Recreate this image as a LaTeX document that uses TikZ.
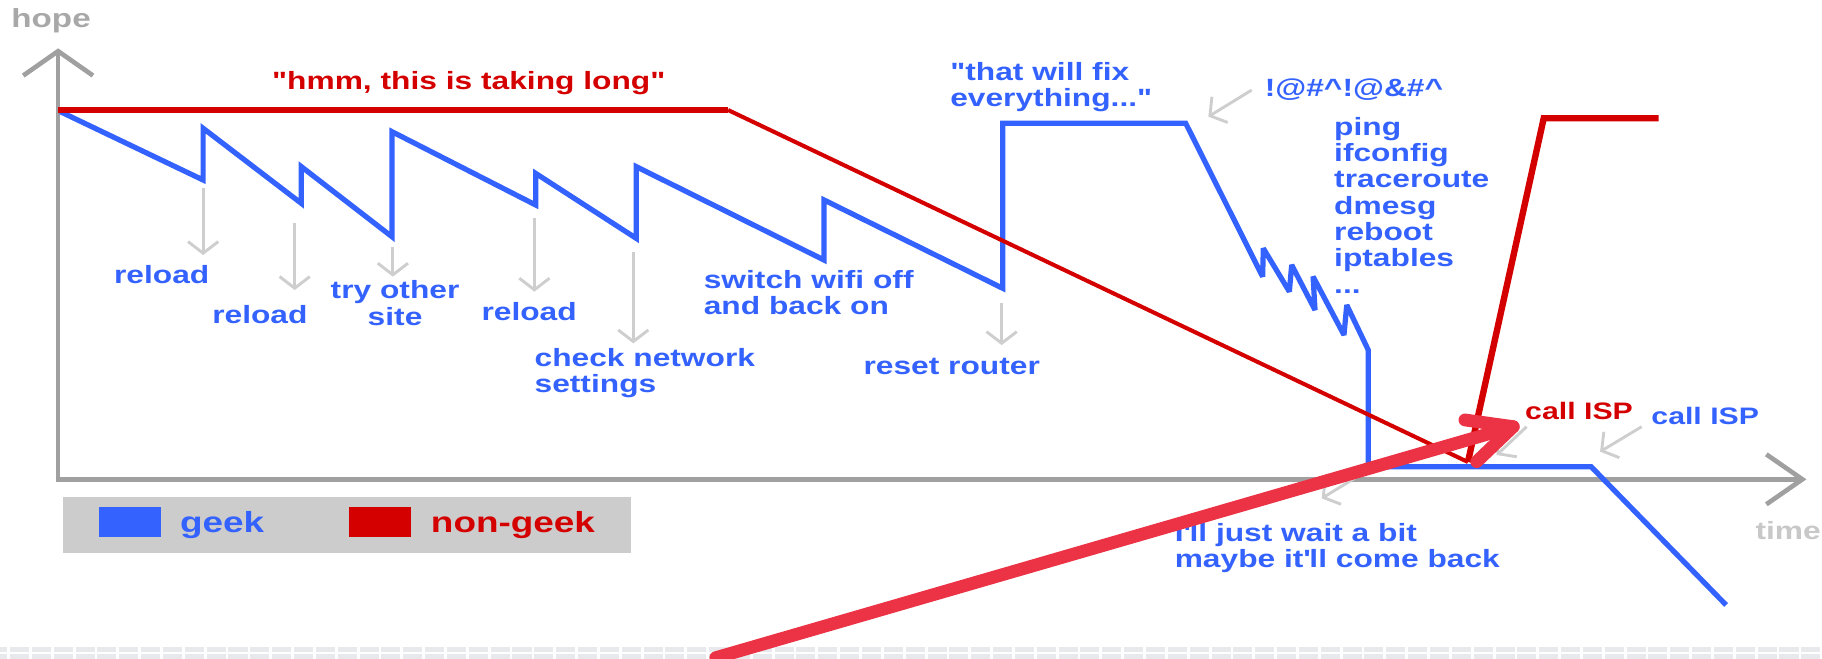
\documentclass[tikz,border=0pt]{standalone}
\usepackage{fontspec}
\usetikzlibrary{arrows.meta}
\newfontfamily\chartfont[FakeStretch=1.27]{Liberation Sans}
\definecolor{geekblue}{RGB}{52,98,255}
\definecolor{nongeekred}{RGB}{212,0,0}
\definecolor{axisgray}{RGB}{160,160,160}
\definecolor{hopegray}{RGB}{168,168,168}
\definecolor{timegray}{RGB}{200,200,200}
\definecolor{pointgray}{RGB}{206,206,206}
\definecolor{legendgray}{RGB}{204,204,204}
\definecolor{notered}{RGB}{236,51,70}
\definecolor{stripgray}{RGB}{232,233,237}

\begin{document}
\begin{tikzpicture}[x=1pt,y=-1pt,
  lbl/.style={font={\chartfont\bfseries\fontsize{21.5}{22.7}\selectfont}, inner sep=0pt, anchor=base west, align=left},
  geeklbl/.style={lbl, text=geekblue},
  redlbl/.style={lbl, text=nongeekred},
  pointer/.style={draw=pointgray, line width=2.5pt, -{Straight Barb[length=10pt,width=26pt]}},
  axis/.style={draw=axisgray, line width=4pt},
  geekline/.style={draw=geekblue, line width=4.5pt, line join=miter, miter limit=3},
  nongeekline/.style={draw=nongeekred, line join=miter, miter limit=3},
  bignote/.style={draw=notered, line width=11pt, line cap=round, line join=round}]
\useasboundingbox (0,0) rectangle (1568,567);

% strip at the bottom
\foreach \k in {0,...,84} {
  \fill[stripgray] (-10.2+18.8*\k,556.8) rectangle ++(16.4,4.3);
  \fill[stripgray] (-10.2+18.8*\k,562.8) rectangle ++(16.4,4.5);
}

% axes
\draw[axis, {Straight Barb[length=21pt,width=60pt]}-{Straight Barb[length=31pt,width=43pt]}] (50,41.6) -- (50,412.5) -- (1554.6,412.5);
\node[lbl, text=hopegray, font={\chartfont\bfseries\fontsize{22.5}{24}\selectfont}] (hope) at (9.6,23.5) {hope};
\node[lbl, text=timegray] (time) at (1510.6,464.7) {time};

% pointers
\foreach \n/\xa/\ya/\xb/\yb in {1/174.8/162/174.8/219.5, 2/253.6/192.2/253.6/249.6, 3/338.1/212.3/338.1/238.1,
    4/459.9/187.9/459.9/251, 5/545/217/545/295.5, 6/862/261/862/297,
    7/1077.2/77.5/1039.9/100.4, 8/1412.8/367.2/1377/388.7, 9/1313.8/367.2/1288/391.6, 10/1173.4/406.9/1137.4/428.9} {
  \coordinate (ptr\n-from) at (\xa,\ya);
  \coordinate (ptr\n-to) at (\xb,\yb);
  \draw[pointer] (ptr\n-from) -- (ptr\n-to);
}

% geek
\draw[geekline] (51.9,96.1) -- (174.8,154.9) -- (174.8,110.4) -- (259.3,175) -- (259.3,143.4)
  -- (337.3,203.7) -- (337.3,113.3) -- (461,176.4) -- (461,149.2) -- (547.5,205.1) -- (547.5,143.4)
  -- (709.2,223.8) -- (709.2,172.1) -- (862.9,248.1) -- (862.9,106.1) -- (1020.4,106.1)
  -- (1086.6,238.1) -- (1087.2,213.7) -- (1109.6,251) -- (1111.6,228) -- (1131.7,266.8) -- (1130,238)
  -- (1156.6,288.3) -- (1159,262.5) -- (1177.5,301.2) -- (1177.5,401.6) -- (1369.3,401.6) -- (1485.5,520.7);

% non-geek
\draw[nongeekline, line width=4.5pt] (50,94.7) -- (626.6,94.7);
\draw[nongeekline, line width=3.5pt] (626.6,94.7) -- (1263.3,397.6);
\draw[nongeekline, line width=5.5pt] (1263.3,397.6) -- (1328.5,101.8) -- (1427.4,101.8);

% labels (multi-line ones sit on the baseline of their last line)
\node[redlbl] (hmm) at (234,77) {"hmm, this is taking long"};
\node[geeklbl] (reload1) at (98,244.4) {reload};
\node[geeklbl] (reload2) at (182.5,278.3) {reload};
\node[geeklbl, anchor=base, align=center] (othersite) at (340,280) {try other\\site};
\node[geeklbl] (reload3) at (414.2,276) {reload};
\node[geeklbl] (network) at (459.9,338) {check network\\settings};
\node[geeklbl] (wifi) at (605.5,271) {switch wifi off\\and back on};
\node[geeklbl] (router) at (743,321.9) {reset router};
\node[geeklbl] (fixall) at (817.6,91.8) {"that will fix\\everything..."};
\node[geeklbl] (curse) at (1088.3,83.2) {!@\#\textasciicircum!@\&\#\textasciicircum};
\node[geeklbl] (commands) at (1148,252.4) {ping\\ifconfig\\traceroute\\dmesg\\reboot\\iptables\\...};
\node[redlbl, font={\chartfont\bfseries\fontsize{20.5}{22}\selectfont}] (callred) at (1312.4,361.4) {call ISP};
\node[geeklbl, font={\chartfont\bfseries\fontsize{20.5}{22}\selectfont}] (callblue) at (1421,365.7) {call ISP};
\node[geeklbl, font={\chartfont\bfseries\fontsize{21.5}{22}\selectfont}] (wait) at (1010.8,488) {I\textquotesingle ll just wait a bit\\maybe it\textquotesingle ll come back};

% legend
\fill[legendgray] (53.8,427.4) rectangle (542.9,476.2);
\fill[geekblue] (85.3,436.6) rectangle (138.3,461.8);
\fill[nongeekred] (300.4,436.6) rectangle (353.5,461.8);
\node[geeklbl, font={\chartfont\bfseries\fontsize{25}{26}\selectfont}] (geek) at (154.8,458.1) {geek};
\node[redlbl, font={\chartfont\bfseries\fontsize{25}{26}\selectfont}] (nongeek) at (370.7,458.1) {non-geek};

% note arrow
\coordinate (note-tail) at (616,566);
\coordinate (note-tip) at (1302.3,367.2);
\coordinate (note-up) at (1260.7,361.4);
\coordinate (note-down) at (1270.8,397.3);
\draw[bignote] (note-tail) -- (note-tip);
\draw[bignote] (note-up) -- (note-tip) -- (note-down);
\end{tikzpicture}
\end{document}
